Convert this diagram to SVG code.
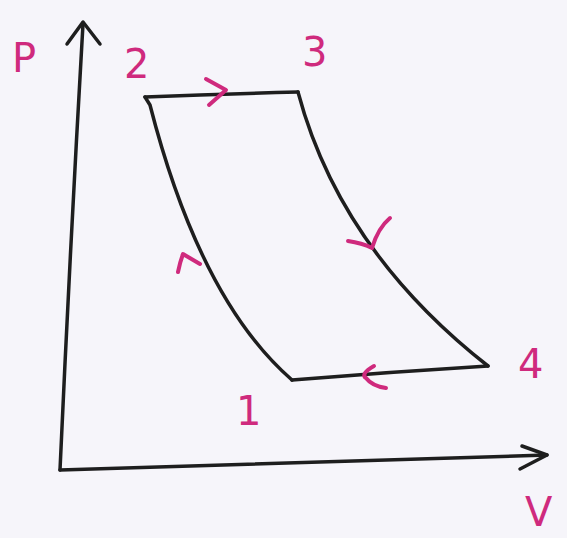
<svg xmlns="http://www.w3.org/2000/svg" width="567" height="538" viewBox="0 0 567 538">
<style>
.ln{fill:none;stroke:#1e1e1e;stroke-width:3.5;stroke-linecap:round;stroke-linejoin:round}
.mk{fill:none;stroke:#cf2a7d;stroke-width:4;stroke-linecap:round;stroke-linejoin:round}
.lb{font-family:"DejaVu Sans","Liberation Sans",sans-serif;fill:#cf2a7d;font-size:40px}
</style>
<rect width="567" height="538" fill="#f6f5fa"/>
<g id="axes">
<path class="ln" d="M60,470 Q70,250 83,24"/>
<path class="ln" d="M67,44 L83,22 L100,44"/>
<path class="ln" d="M60,470 Q300,463 547,455"/>
<path class="ln" d="M522,446 L547,455 L520,469"/>
</g>
<g id="connectors">
<path class="ln" d="M145,97 Q220,94 298,92"/>
<path class="ln" d="M298,92 Q340,250 488,366"/>
<path class="ln" d="M488,366 Q390,372 292,380"/>
<path class="ln" d="M292,380 Q200,300 150,105 L145,97"/>
<path class="mk" d="M206,79 L226,90 L209,105"/>
<path class="mk" d="M348,241 Q362,243 372,248 Q378,228 390,218"/>
<path class="mk" d="M178,272 Q180,262 183,254 L200,264"/>
<path class="mk" d="M374,366 Q360,374 366,378 Q372,386 386,388"/>
</g>
<g id="label-P"><text class="lb" x="12" y="72" font-size="46">P</text></g>
<g id="label-2"><text class="lb" x="124" y="78">2</text></g>
<g id="label-3"><text class="lb" x="302" y="66">3</text></g>
<g id="label-4"><text class="lb" x="518" y="378">4</text></g>
<g id="label-1"><text class="lb" x="236" y="425">1</text></g>
<g id="label-V"><text class="lb" x="525" y="526" font-size="38">V</text></g>
</svg>
